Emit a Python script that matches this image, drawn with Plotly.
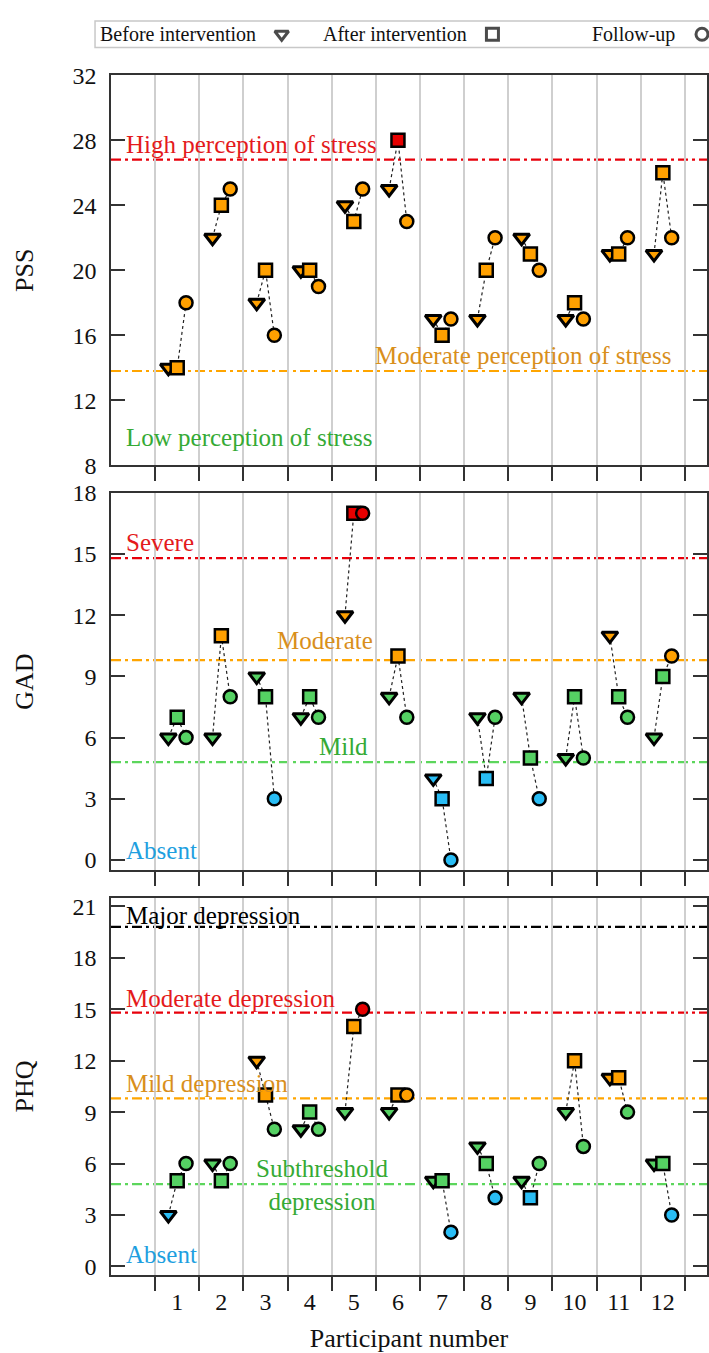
import plotly.graph_objects as go

# ---- data ---------------------------------------------------------------
participants = list(range(1, 13))

pss_before = [14, 22, 18, 20, 24, 25, 17, 17, 22, 17, 21, 21]
pss_after = [14, 24, 20, 20, 23, 28, 16, 20, 21, 18, 21, 26]
pss_follow = [18, 25, 16, 19, 25, 23, 17, 22, 20, 17, 22, 22]

gad_before = [6, 6, 9, 7, 12, 8, 4, 7, 8, 5, 11, 6]
gad_after = [7, 11, 8, 8, 17, 10, 3, 4, 5, 8, 8, 9]
gad_follow = [6, 8, 3, 7, 17, 7, 0, 7, 3, 5, 7, 10]

phq_before = [3, 6, 12, 8, 9, 9, 5, 7, 5, 9, 11, 6]
phq_after = [5, 5, 10, 9, 14, 10, 5, 6, 4, 12, 11, 6]
phq_follow = [6, 6, 8, 8, 15, 10, 2, 4, 6, 7, 9, 3]

# severity cut-offs (drawn as dash-dot lines)
pss_cuts = [13.8, 26.8]
gad_cuts = [4.8, 9.8, 14.8]
phq_cuts = [4.8, 9.8, 14.8, 19.8]

pss_bands = ["Low perception of stress", "Moderate perception of stress",
             "High perception of stress"]
gad_bands = ["Absent", "Mild", "Moderate", "Severe"]
phq_bands = ["Absent", "Subthreshold<br>depression", "Mild depression",
             "Moderate depression", "Major depression"]

legend_labels = ["Before intervention", "After intervention", "Follow-up"]

# ---- styling --------------------------------------------------------------
FONT = "Liberation Serif"
fill = {"blue": "#29BDF5", "green": "#55D163", "orange": "#FFA000",
        "red": "#E60000", "black": "#000000"}
line_col = {"blue": "#29BDF5", "green": "#5CD65C", "orange": "#FFA500",
            "red": "#E8000B", "black": "#000000"}
text_col = {"blue": "#1E9FE0", "green": "#35AA35", "orange": "#D98F1C",
            "red": "#E41A1C", "black": "#000000"}

W, H = 709, 1353
M_L, M_R, M_T, M_B = 111, 1, 0, 75
PLOT_H = H - M_T - M_B


def ydom(top_px, bottom_px):
    return [(PLOT_H - bottom_px) / PLOT_H, (PLOT_H - top_px) / PLOT_H]


panels = [
    dict(name="PSS", before=pss_before, after=pss_after, follow=pss_follow,
         cuts=pss_cuts, bands=pss_bands,
         band_colors=["green", "orange", "red"],
         yrange=[8, 32], tick0=8, dtick=4, dom=ydom(63, 458),
         labels=[(-0.21, 9.7, "left"), (12.24, 14.75, "right"),
                 (-0.21, 27.75, "left")]),
    dict(name="GAD", before=gad_before, after=gad_after, follow=gad_follow,
         cuts=gad_cuts, bands=gad_bands,
         band_colors=["blue", "green", "orange", "red"],
         yrange=[-0.5, 18], tick0=0, dtick=3, dom=ydom(486, 868),
         labels=[(-0.21, 0.48, "left"), (4.77, 5.56, "center"),
                 (4.34, 10.75, "center"), (-0.21, 15.58, "left")]),
    dict(name="PHQ", before=phq_before, after=phq_after, follow=phq_follow,
         cuts=phq_cuts, bands=phq_bands,
         band_colors=["blue", "green", "orange", "red", "black"],
         yrange=[-0.5, 21.5], tick0=0, dtick=3, dom=ydom(896, 1278),
         labels=[(-0.21, 0.69, "left"), (4.27, 4.72, "center"),
                 (-0.21, 10.66, "left"), (-0.21, 15.6, "left"),
                 (-0.21, 20.48, "left")]),
]

OFFSETS = [-0.2, 0.0, 0.2]
SYMBOLS = ["triangle-down", "square", "circle"]


def band_of(v, cuts):
    return sum(1 for c in cuts if v > c)


fig = go.Figure()
layout_axes = {}
annotations = []
shapes = []

for i, pnl in enumerate(panels):
    k = "" if i == 0 else str(i + 1)
    xa, ya = "x" + k, "y" + k

    # dotted connectors: before -> after -> follow-up
    cx, cy = [], []
    for p, b, a, f in zip(participants, pnl["before"], pnl["after"], pnl["follow"]):
        cx += [p + OFFSETS[0], p + OFFSETS[1], p + OFFSETS[2], None]
        cy += [b, a, f, None]
    fig.add_trace(go.Scatter(x=cx, y=cy, mode="lines", xaxis=xa, yaxis=ya,
                             line=dict(color="#222222", width=1.2, dash="dot"),
                             hoverinfo="skip", showlegend=False))

    # markers for the three time points
    for series, off, sym in zip([pnl["before"], pnl["after"], pnl["follow"]],
                                OFFSETS, SYMBOLS):
        cols = [fill[pnl["band_colors"][band_of(v, pnl["cuts"])]] for v in series]
        fig.add_trace(go.Scatter(
            x=[p + off for p in participants], y=series, mode="markers",
            xaxis=xa, yaxis=ya, showlegend=False, cliponaxis=False,
            marker=dict(symbol=sym, size=14 if sym == "triangle-down" else 13,
                        color=cols,
                        line=dict(color="#000000",
                                  width=3 if sym == "triangle-down" else 2.5))))

    # cut-off lines
    for j, c in enumerate(pnl["cuts"]):
        cname = pnl["band_colors"][j + 1]
        shapes.append(dict(type="line", xref=xa + " domain", yref=ya,
                           x0=0, x1=1, y0=c, y1=c, layer="below",
                           line=dict(color=line_col[cname], width=2.2,
                                     dash="10px,4px,3px,4px")))

    # band labels
    for (lx, ly, anc), txt, cname in zip(pnl["labels"], pnl["bands"],
                                         pnl["band_colors"]):
        annotations.append(dict(x=lx, y=ly, xref=xa, yref=ya, text=txt,
                                showarrow=False, xanchor=anc, yanchor="middle",
                                font=dict(family=FONT, size=25,
                                          color=text_col[cname])))

    last = i == len(panels) - 1
    layout_axes["xaxis" + k] = dict(
        domain=[0, 1], range=[-0.5, 13], anchor=ya,
        tickmode="array", tickvals=participants,
        ticktext=[str(p) for p in participants],
        showticklabels=last, ticks="outside", ticklen=0,
        ticklabelstandoff=4,
        tickfont=dict(family=FONT, size=24, color="#111111"),
        showgrid=False, zeroline=False,
        showline=True, linecolor="#333333", linewidth=1.6, mirror=True,
        minor=dict(tickmode="array",
                   tickvals=[p + 0.5 for p in [0] + participants],
                   ticks="outside", ticklen=14, tickwidth=1.5,
                   tickcolor="#333333", showgrid=True,
                   gridcolor="#cfcfcf", gridwidth=1.5),
        title=dict(text="Participant number" if last else "",
                   font=dict(family=FONT, size=26, color="#111111"),
                   standoff=20),
    )
    layout_axes["yaxis" + k] = dict(
        domain=pnl["dom"], range=pnl["yrange"], anchor=xa,
        tickmode="linear", tick0=pnl["tick0"], dtick=pnl["dtick"],
        ticks="inside", ticklen=14, tickwidth=1.5, tickcolor="#333333",
        ticklabelstandoff=8,
        tickfont=dict(family=FONT, size=24, color="#111111"),
        showgrid=False, zeroline=False,
        showline=True, linecolor="#333333", linewidth=1.6, mirror="ticks",
        title=dict(text=pnl["name"],
                   font=dict(family=FONT, size=26, color="#111111"),
                   standoff=31),
    )

# ---- legend strip (label followed by its symbol) ---------------------------
leg_dom = ydom(8, 35)
leg_marker_x = [0.2864, 0.640, 0.9916]
leg_text_x = [0.246, 0.601, 0.950]
fig.add_trace(go.Scatter(
    x=leg_marker_x, y=[0.5] * 3, mode="markers", xaxis="x4", yaxis="y4",
    showlegend=False, cliponaxis=False, hoverinfo="skip",
    marker=dict(symbol=SYMBOLS, size=[12, 12, 12], color="#ffffff",
                line=dict(color="#000000", width=3))))
layout_axes["xaxis4"] = dict(domain=[0, 1], range=[0, 1], anchor="y4",
                             visible=False, fixedrange=True)
layout_axes["yaxis4"] = dict(domain=leg_dom, range=[0, 1], anchor="x4",
                             visible=False, fixedrange=True)
for tx, lab in zip(leg_text_x, legend_labels):
    annotations.append(dict(x=tx, y=0.5, xref="x4", yref="y4", text=lab,
                            showarrow=False, xanchor="right", yanchor="middle",
                            font=dict(family=FONT, size=20, color="#111111")))
shapes.append(dict(type="rect", xref="paper", yref="paper",
                   x0=(95 - M_L) / (W - M_L - M_R), x1=1.05,
                   y0=leg_dom[0], y1=leg_dom[1],
                   line=dict(color="#c8c8c8", width=1.5),
                   fillcolor="rgba(0,0,0,0)"))

fig.update_layout(
    width=W, height=H,
    margin=dict(l=M_L, r=M_R, t=M_T, b=M_B),
    paper_bgcolor="#ffffff", plot_bgcolor="#ffffff",
    font=dict(family=FONT, color="#111111"),
    showlegend=False,
    annotations=annotations, shapes=shapes,
    **layout_axes,
)

fig.write_html("out.html")
